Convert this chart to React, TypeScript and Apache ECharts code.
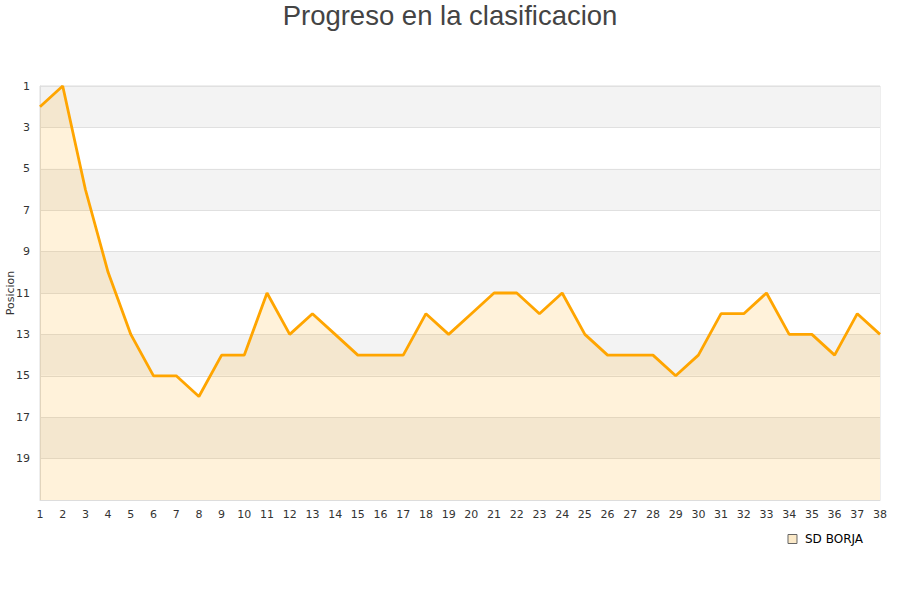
import React, { useEffect, useRef } from "react";
import * as echarts from "echarts";

const jornadas = Array.from({ length: 38 }, (_, i) => String(i + 1));
const posiciones = [2, 1, 6, 10, 13, 15, 15, 16, 14, 14, 11, 13, 12, 13, 14, 14, 14, 12, 13, 12, 11, 11, 12, 11, 13, 14, 14, 14, 15, 14, 12, 12, 11, 13, 13, 14, 12, 13];
const teamName = "SD BORJA";
const titleText = "Progreso en la clasificacion";
const yName = "Posicion";

export default function App() {
  const ref = useRef<HTMLDivElement>(null);
  useEffect(() => {
    const chart = echarts.init(ref.current!, null, { renderer: "svg" });
    chart.setOption({
      animation: false,
      backgroundColor: "#fff",
      title: {
        text: titleText,
        left: "center",
        top: 0,
        padding: 0,
        textStyle: { fontFamily: "Liberation Sans", fontSize: 27.5, lineHeight: 30, fontWeight: "normal", color: "#444" },
      },
      legend: {
        right: 32,
        top: 528,
        icon: "rect",
        itemWidth: 9,
        itemHeight: 9,
        itemGap: 10,
        textStyle: { fontFamily: "DejaVu Sans", fontSize: 12, color: "#000", padding: [0, 0, 0, 3] },
        data: [{ name: teamName, itemStyle: { color: "#fbe9c8", borderColor: "#666", borderWidth: 1 } }],
      },
      graphic: [
        {
          type: "text",
          x: 10,
          y: 293,
          rotation: Math.PI / 2,
          style: {
            text: yName,
            align: "center",
            verticalAlign: "middle",
            fontFamily: "DejaVu Sans",
            fontSize: 11,
            fill: "#333",
          },
        },
      ],
      grid: {
        left: 40,
        right: 20,
        top: 86,
        bottom: 100,
        show: true,
        borderColor: "#dddddd",
        borderWidth: 1,
        outerBoundsMode: "none",
        containLabel: false,
      },
      xAxis: {
        type: "category",
        data: jornadas,
        boundaryGap: false,
        axisLine: { show: true, lineStyle: { color: "#dddddd" } },
        axisTick: { show: false },
        axisLabel: { fontFamily: "DejaVu Sans", fontSize: 11, color: "#333", margin: 9, interval: 0 },
        splitLine: { show: false },
      },
      yAxis: {
        type: "value",
        inverse: true,
        min: 1,
        max: 21,
        interval: 2,
        axisLine: { show: true, lineStyle: { color: "#dddddd" } },
        axisTick: { show: false },
        axisLabel: {
          fontFamily: "DejaVu Sans",
          fontSize: 11,
          color: "#333",
          margin: 10,
          formatter: (v: number) => (v === 21 ? "" : String(v)),
        },
        splitLine: { show: true, lineStyle: { color: "#e0e0e0" } },
        splitArea: { show: true, areaStyle: { color: ["#f3f3f3", "#ffffff"] } },
      },
      series: [
        {
          name: teamName,
          type: "line",
          data: posiciones,
          symbol: "none",
          lineStyle: { color: "#ffa500", width: 2.8 },
          itemStyle: { color: "#ffa500" },
          areaStyle: { color: "rgba(255,165,0,0.21)", origin: "end" },
        },
      ],
    });
    return () => chart.dispose();
  }, []);
  return <div ref={ref} style={{ position: "absolute", left: 0, top: 0, width: 900, height: 600 }} />;
}
